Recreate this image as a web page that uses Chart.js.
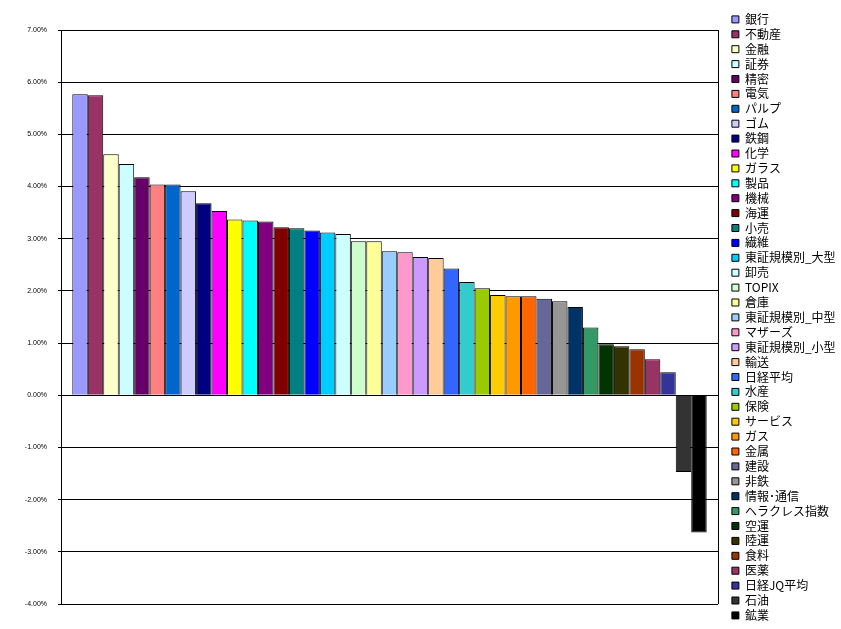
<!DOCTYPE html>
<html>
<head>
<meta charset="utf-8">
<script src="https://cdn.jsdelivr.net/npm/chart.js@4"></script>
<style>
  body { margin: 0; background: #fff; }
</style>
</head>
<body>
<canvas id="sectorChart" width="841" height="629"></canvas>
<script>
// sector names (legend order, sorted by return)
const sectors = [
  '銀行', '不動産', '金融', '証券', '精密', '電気', 'パルプ', 'ゴム', '鉄鋼', '化学',
  'ガラス', '製品', '機械', '海運', '小売', '繊維', '東証規模別_大型', '卸売', 'TOPIX', '倉庫',
  '東証規模別_中型', 'マザーズ', '東証規模別_小型', '輸送', '日経平均', '水産', '保険', 'サービス', 'ガス', '金属',
  '建設', '非鉄', '情報･通信', 'ヘラクレス指数', '空運', '陸運', '食料', '医薬', '日経JQ平均', '石油',
  '鉱業'
];

// return in percent
const returns = [
  5.77, 5.75, 4.62, 4.43, 4.18, 4.04, 4.04, 3.91, 3.68, 3.53,
  3.37, 3.35, 3.33, 3.22, 3.20, 3.16, 3.12, 3.09, 2.95, 2.95,
  2.76, 2.74, 2.65, 2.63, 2.43, 2.17, 2.05, 1.92, 1.90, 1.90,
  1.85, 1.80, 1.69, 1.30, 0.98, 0.94, 0.88, 0.69, 0.44, -1.47,
  -2.63
];

const barColors = [
  '#9999FF', '#993366', '#FFFFCC', '#CCFFFF', '#660066', '#FF8080', '#0066CC', '#CCCCFF', '#000080', '#FF00FF',
  '#FFFF00', '#00FFFF', '#800080', '#800000', '#008080', '#0000FF', '#00CCFF', '#CCFFFF', '#CCFFCC', '#FFFF99',
  '#99CCFF', '#FF99CC', '#CC99FF', '#FFCC99', '#3366FF', '#33CCCC', '#99CC00', '#FFCC00', '#FF9900', '#FF6600',
  '#666699', '#969696', '#003366', '#339966', '#003300', '#333300', '#993300', '#993366', '#333399', '#333333',
  '#000000'
];

const yMin = -4;
const yMax = 7;

const datasets = sectors.map((name, i) => ({
  label: name,
  data: [returns[i]],
  backgroundColor: barColors[i],
  borderColor: '#000',
  borderWidth: 1,
  barPercentage: 1,
  categoryPercentage: 0.9656
}));

new Chart(document.getElementById('sectorChart'), {
  type: 'bar',
  data: { labels: [''], datasets },
  options: {
    responsive: false,
    animation: false,
    layout: { padding: { top: 10.5, left: 0, right: 0, bottom: 0 } },
    plugins: {
      tooltip: { enabled: false },
      legend: {
        position: 'right',
        align: 'start',
        maxWidth: 112,
        labels: {
          boxWidth: 7,
          boxHeight: 7,
          padding: 2.9,
          color: '#000',
          font: { family: '"Noto Sans CJK JP", sans-serif', size: 12 }
        }
      }
    },
    scales: {
      x: {
        type: 'category',
        position: 'bottom',
        offset: true,
        grid: { offset: true, color: '#000', lineWidth: 1, drawTicks: false },
        border: { display: false },
        ticks: { display: false },
        afterFit: (s) => { s.height = 25; }
      },
      xTop: {
        type: 'category',
        position: 'top',
        grid: { display: false },
        border: { display: false },
        ticks: { display: false },
        afterFit: (s) => { s.height = 19.5; }
      },
      y: {
        min: yMin,
        max: yMax,
        ticks: {
          stepSize: 1,
          padding: 11,
          color: '#000',
          font: { family: 'Arial, "Liberation Sans", sans-serif', size: 7 },
          callback: (v) => v.toFixed(2) + '%'
        },
        grid: { color: '#000', lineWidth: 1, tickLength: 3 },
        border: { color: '#000', width: 1 },
        afterFit: (s) => { s.width = 61; }
      },
      yRight: {
        type: 'linear',
        position: 'right',
        grid: { display: false },
        border: { display: false },
        ticks: { display: false },
        afterFit: (s) => { s.width = 11; }
      }
    }
  }
});
</script>
</body>
</html>
